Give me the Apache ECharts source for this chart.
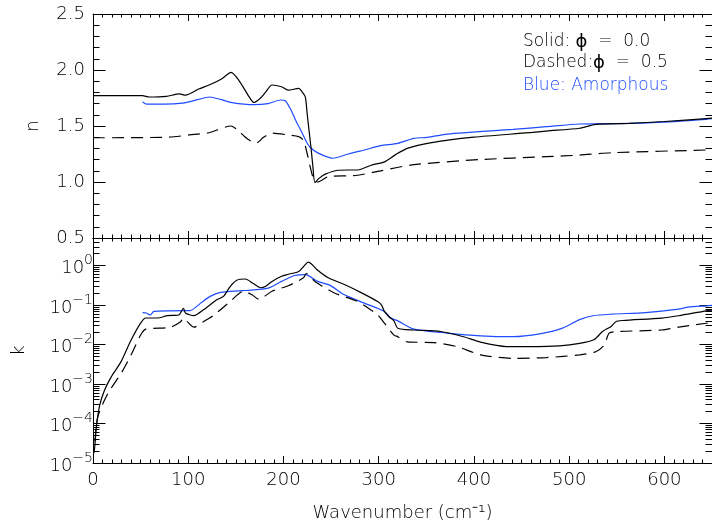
<!DOCTYPE html>
<html>
<head>
<meta charset="utf-8">
<script src="https://cdn.jsdelivr.net/npm/echarts@6/dist/echarts.min.js"></script>
<style>html,body{margin:0;padding:0;background:#fff}#c{width:712px;height:529px}</style>
</head>
<body>
<div id="c"></div>
<script>
// ---- Data (wavenumber in cm^-1) ----
// Top panel: refractive index n
const nSolidX = [0, 52, 59, 77, 91, 97, 111, 122, 135, 145, 153, 164, 169, 176, 181, 188, 198, 205, 216, 220, 223, 225, 227, 229, 231, 233, 237, 244, 257, 268, 278, 292, 306, 317, 330, 354, 400, 458, 476, 511, 528, 563, 600, 644, 650];
const nSolidY = [1.771, 1.771, 1.759, 1.765, 1.786, 1.775, 1.83, 1.866, 1.92, 1.979, 1.91, 1.76, 1.71, 1.75, 1.80, 1.866, 1.85, 1.82, 1.836, 1.80, 1.757, 1.60, 1.45, 1.30, 1.13, 0.995, 1.03, 1.07, 1.105, 1.107, 1.107, 1.15, 1.18, 1.24, 1.30, 1.35, 1.40, 1.44, 1.455, 1.48, 1.515, 1.524, 1.54, 1.565, 1.57];

const nDashX = [0, 80, 101, 122, 145, 153, 160, 167, 172, 179, 188, 205, 216, 221, 225, 228, 232, 236, 247, 268, 278, 302, 337, 406, 476, 511, 546, 644, 650];
const nDashY = [1.395, 1.40, 1.42, 1.44, 1.50, 1.455, 1.40, 1.36, 1.35, 1.40, 1.437, 1.42, 1.405, 1.37, 1.25, 1.137, 1.018, 1.0, 1.047, 1.056, 1.06, 1.10, 1.155, 1.20, 1.226, 1.24, 1.262, 1.286, 1.29];

const nBlueX = [52, 56, 75, 94, 110, 122, 135, 146, 169, 184, 197, 202, 208, 214, 219, 224, 228, 236, 252, 268, 285, 302, 320, 337, 351, 372, 441, 476, 511, 563, 600, 644, 650];
const nBlueY = [1.717, 1.696, 1.695, 1.705, 1.735, 1.759, 1.735, 1.708, 1.69, 1.70, 1.732, 1.725, 1.64, 1.53, 1.449, 1.36, 1.31, 1.26, 1.212, 1.25, 1.286, 1.324, 1.345, 1.39, 1.398, 1.428, 1.47, 1.494, 1.518, 1.524, 1.535, 1.56, 1.565];

// Bottom panel: extinction coefficient k
const kSolidX = [1, 2, 3.5, 7, 12, 19, 29.5, 40, 50, 55.5, 68, 78, 90, 95, 97, 106, 116, 130, 137, 144, 151, 160, 168, 176, 181, 188, 198, 205, 216, 222, 226, 230, 235, 247, 264, 282, 299, 303, 306, 311, 316, 320, 337, 365, 389, 407, 434, 459, 490, 511, 526, 535, 544, 549, 556, 597, 615, 644, 650];
const kSolidY = [1.78e-5, 2.82e-5, 8.1e-5, 2.9e-4, 6.9e-4, 1.5e-3, 3.7e-3, 1.3e-2, 3.5e-2, 4.7e-2, 4.7e-2, 5.4e-2, 5.6e-2, 8.3e-2, 6.3e-2, 5.4e-2, 7.6e-2, 0.136, 0.166, 0.295, 0.427, 0.457, 0.355, 0.275, 0.295, 0.398, 0.537, 0.603, 0.708, 1.0, 1.22, 1.07, 0.794, 0.49, 0.331, 0.204, 0.123, 0.1, 0.069, 0.05, 0.04, 0.026, 0.0234, 0.0214, 0.0158, 0.0115, 0.0089, 0.0089, 0.0093, 0.0107, 0.0132, 0.0214, 0.0288, 0.038, 0.0407, 0.0468, 0.0537, 0.0716, 0.074];

const kDashX = [2, 5, 15.6, 29.5, 40, 50, 55.5, 81.5, 92, 95, 99, 106, 116, 127, 144, 158, 167, 174, 188, 205, 221, 224, 233, 254, 278, 299, 306, 316, 320, 330, 358, 382, 407, 441, 476, 511, 528, 537, 542, 552, 597, 615, 644, 650];
const kDashY = [3.5e-5, 1.48e-4, 5.75e-4, 1.86e-3, 5.5e-3, 0.0174, 0.0245, 0.0275, 0.038, 0.0468, 0.038, 0.0275, 0.038, 0.056, 0.123, 0.224, 0.182, 0.141, 0.224, 0.309, 0.49, 0.63, 0.398, 0.2, 0.123, 0.056, 0.0347, 0.0174, 0.0158, 0.0117, 0.0112, 0.0089, 0.0055, 0.00447, 0.00468, 0.0055, 0.0066, 0.0098, 0.0195, 0.0214, 0.0234, 0.0275, 0.0347, 0.0355];

const kBlueX = [52, 56, 60, 64, 81.5, 99, 102, 113, 123, 134, 153, 161, 184, 198, 212, 223, 236, 249, 264, 285, 306, 313, 320, 337, 372, 407, 441, 469, 493, 511, 525, 545, 580, 615, 625, 644, 650];
const kBlueY = [0.0646, 0.063, 0.056, 0.069, 0.0716, 0.0724, 0.0724, 0.112, 0.166, 0.209, 0.229, 0.234, 0.269, 0.398, 0.562, 0.589, 0.398, 0.316, 0.182, 0.112, 0.069, 0.0468, 0.0398, 0.0245, 0.0195, 0.0166, 0.0158, 0.0186, 0.026, 0.0427, 0.0537, 0.0589, 0.0646, 0.079, 0.089, 0.0955, 0.098];

// ---- Tick labels ----
const xTickValues = [0, 100, 200, 300, 400, 500, 600];
const xTickLabels = ['0', '100', '200', '300', '400', '500', '600'];
const nTickValues = [0.5, 1.0, 1.5, 2.0, 2.5];
const nTickLabels = ['0.5', '1.0', '1.5', '2.0', '2.5'];
const kTickValues = [1e-5, 1e-4, 1e-3, 1e-2, 1e-1, 1];
const kTickExps = ['−5', '−4', '−3', '−2', '−1', '0'];

const legendLines = ['Solid: ', 'Dashed:', 'Blue: Amorphous'];
const xName = 'Wavenumber (cm⁻¹)';

// ---- minor tick positions ----
const xMinor = [];
for (let v = 10; v < 650; v += 10) if (v % 100 !== 0) xMinor.push(v);
const nMinor = [];
for (let i = 6; i < 25; i++) if (i % 5 !== 0) nMinor.push(i / 10);
const kMinor = [];
for (let e = -5; e <= 0; e++) for (let m = 2; m <= 9; m++) { const v = m * Math.pow(10, e); if (v < 5) kMinor.push(+v.toPrecision(3)); }

const FONT = 'DejaVu Sans';
const FW = 200;
const TXT = '#000';
const BLUE = '#1f4cff';
const XMIN = 0, XMAX = 650;

function pair(xs, ys) { return xs.map((x, i) => [x, ys[i]]); }

const lineC = { color: '#000', width: 1 };

function xAxisDef(grid, pos, ticks, len, line, extra) {
  return Object.assign({
    type: 'value', gridIndex: grid, position: pos, min: XMIN, max: XMAX,
    axisLine: { show: line, onZero: false, lineStyle: lineC },
    axisTick: { show: true, inside: true, length: len, customValues: ticks, lineStyle: lineC },
    axisLabel: { show: false },
    splitLine: { show: false }
  }, extra || {});
}
function yAxisDef(grid, pos, type, min, max, ticks, len, line, extra) {
  return Object.assign({
    type: type, gridIndex: grid, position: pos, min: min, max: max,
    axisLine: { show: line, onZero: false, lineStyle: lineC },
    axisTick: { show: true, inside: true, length: len, customValues: ticks, lineStyle: lineC },
    axisLabel: { show: false },
    splitLine: { show: false }
  }, extra || {});
}

const txtStyle = { color: TXT, fontFamily: FONT, fontSize: 18, fontWeight: FW };

const xAxes = [
  xAxisDef(0, 'bottom', xTickValues, 7, true),
  xAxisDef(0, 'bottom', xMinor, 3.5, false),
  xAxisDef(0, 'top', xTickValues, 7, true),
  xAxisDef(0, 'top', xMinor, 3.5, false),
  xAxisDef(1, 'top', xTickValues, 7, true),
  xAxisDef(1, 'top', xMinor, 3.5, false),
  xAxisDef(1, 'bottom', xTickValues, 7, true, {
    axisLabel: Object.assign({
      show: true, customValues: xTickValues, margin: 8,
      formatter: v => { const i = xTickValues.indexOf(v); return i >= 0 ? xTickLabels[i] : ''; }
    }, txtStyle),
    name: xName, nameLocation: 'middle', nameGap: 41,
    nameTextStyle: txtStyle
  }),
  xAxisDef(1, 'bottom', xMinor, 3.5, false)
];

const yAxes = [
  yAxisDef(0, 'left', 'value', 0.5, 2.5, nTickValues, 12.5, true, {
    axisLabel: Object.assign({
      show: true, customValues: nTickValues, margin: 8,
      formatter: v => { let i = nTickValues.findIndex(t => Math.abs(t - v) < 1e-9); return i >= 0 ? nTickLabels[i] : ''; }
    }, txtStyle),
    name: 'n', nameLocation: 'middle', nameGap: 51, nameRotate: 90,
    nameTextStyle: txtStyle
  }),
  yAxisDef(0, 'left', 'value', 0.5, 2.5, nMinor, 6.5, false),
  yAxisDef(0, 'right', 'value', 0.5, 2.5, nTickValues, 12.5, true),
  yAxisDef(0, 'right', 'value', 0.5, 2.5, nMinor, 6.5, false),
  yAxisDef(1, 'left', 'log', 1e-5, 5, kTickValues, 12.5, true, {
    logBase: 10,
    axisLabel: {
      show: true, customValues: kTickValues, margin: 0, color: TXT, fontFamily: FONT, fontSize: 18, fontWeight: FW,
      formatter: v => {
        let best = 0, bd = 1e9;
        kTickValues.forEach((t, i) => { const d = Math.abs(Math.log10(t) - Math.log10(v)); if (d < bd) { bd = d; best = i; } });
        return '{b|10}{s|' + kTickExps[best] + '}';
      },
      rich: {
        b: { fontFamily: FONT, fontSize: 18, fontWeight: FW, color: TXT, lineHeight: 24, verticalAlign: 'bottom' },
        s: { fontFamily: FONT, fontSize: 14, fontWeight: FW, color: TXT, lineHeight: 14, verticalAlign: 'top' }
      }
    },
    name: 'k', nameLocation: 'middle', nameGap: 65, nameRotate: 90,
    nameTextStyle: txtStyle
  }),
  yAxisDef(1, 'left', 'log', 1e-5, 5, kMinor, 6.5, false, { logBase: 10 }),
  yAxisDef(1, 'right', 'log', 1e-5, 5, kTickValues, 12.5, true, { logBase: 10 }),
  yAxisDef(1, 'right', 'log', 1e-5, 5, kMinor, 6.5, false, { logBase: 10 })
];

function line(name, data, xi, yi, color, dashed) {
  return {
    name: name, type: 'line', xAxisIndex: xi, yAxisIndex: yi, data: data,
    showSymbol: false, symbol: 'none', smooth: 0.25, animation: false,
    lineStyle: { color: color, width: 1.2, type: dashed ? [12, 7] : 'solid' },
    z: color === BLUE ? 3 : 4
  };
}

const legendFont = '200 17px "DejaVu Sans"';
const option = {
  animation: false,
  backgroundColor: '#fff',
  grid: [
    { left: 93, top: 14, width: 622, height: 224 },
    { left: 93, top: 238, width: 622, height: 225 }
  ],
  xAxis: xAxes,
  yAxis: yAxes,
  series: [
    line('n solid', pair(nSolidX, nSolidY), 0, 0, '#000', false),
    line('n dashed', pair(nDashX, nDashY), 0, 0, '#000', true),
    line('n blue', pair(nBlueX, nBlueY), 0, 0, BLUE, false),
    line('k solid', pair(kSolidX, kSolidY), 6, 4, '#000', false),
    line('k dashed', pair(kDashX, kDashY), 6, 4, '#000', true),
    line('k blue', pair(kBlueX, kBlueY), 6, 4, BLUE, false)
  ],
  graphic: [
    { type: 'text', left: 523, top: 33, style: { text: legendLines[0] + '{p|ϕ}  =  0.0', fill: TXT, font: legendFont, rich: { p: { fontFamily: FONT, fontSize: 18, fontWeight: 'normal', fill: TXT } } } },
    { type: 'text', left: 523, top: 54, style: { text: legendLines[1] + '{p|ϕ}  =  0.5', fill: TXT, font: legendFont, rich: { p: { fontFamily: FONT, fontSize: 18, fontWeight: 'normal', fill: TXT } } } },
    { type: 'text', left: 523, top: 77, style: { text: legendLines[2], fill: BLUE, font: legendFont } }
  ]
};

const chart = echarts.init(document.getElementById('c'), null, { renderer: 'canvas' });
chart.setOption(option);
</script>
</body>
</html>
